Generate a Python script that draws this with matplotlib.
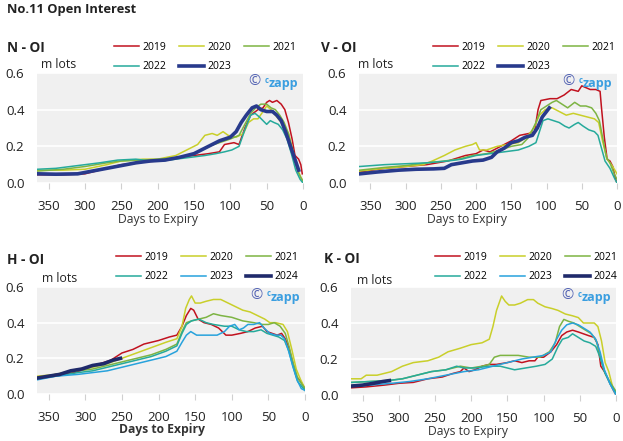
import matplotlib
matplotlib.use("Agg")
import matplotlib.pyplot as plt

plt.rcParams['font.family'] = ['Open Sans', 'DejaVu Sans']

# ── data: (days to expiry, open interest in m lots) ──
n_2019 = [(365, 0.045), (330, 0.045), (300, 0.05), (280, 0.07), (250, 0.10), (220, 0.115), (200, 0.12),
          (170, 0.14), (150, 0.15), (130, 0.16), (115, 0.17), (108, 0.21), (95, 0.22), (88, 0.21),
          (80, 0.30), (72, 0.37), (62, 0.40), (55, 0.41), (50, 0.44), (46, 0.45), (42, 0.44), (36, 0.45),
          (30, 0.43), (25, 0.40), (20, 0.33), (15, 0.24), (11, 0.15), (6, 0.13), (3, 0.10), (1, 0.05)]
n_2020 = [(365, 0.07), (330, 0.07), (300, 0.075), (270, 0.10), (250, 0.12), (220, 0.13), (200, 0.13),
          (175, 0.15), (160, 0.18), (145, 0.21), (135, 0.26), (125, 0.27), (118, 0.26), (110, 0.28),
          (103, 0.26), (92, 0.25), (82, 0.27), (75, 0.33), (68, 0.35), (62, 0.35), (55, 0.39), (50, 0.42),
          (44, 0.40), (38, 0.37), (32, 0.34), (26, 0.31), (20, 0.27), (14, 0.18), (8, 0.08), (3, 0.03), (0, 0.01)]
n_2021 = [(365, 0.065), (330, 0.075), (300, 0.09), (270, 0.11), (250, 0.12), (220, 0.125), (200, 0.13),
          (170, 0.14), (150, 0.16), (130, 0.20), (115, 0.22), (100, 0.24), (88, 0.26), (80, 0.32),
          (72, 0.38), (65, 0.41), (58, 0.43), (50, 0.43), (44, 0.41), (38, 0.40), (32, 0.37), (26, 0.33),
          (20, 0.27), (14, 0.17), (8, 0.07), (3, 0.03), (0, 0.01)]
n_2022 = [(365, 0.075), (340, 0.08), (320, 0.09), (300, 0.10), (280, 0.11), (255, 0.125), (230, 0.13),
          (210, 0.12), (195, 0.12), (175, 0.13), (155, 0.14), (135, 0.15), (120, 0.16), (108, 0.17),
          (98, 0.18), (88, 0.20), (80, 0.29), (72, 0.37), (66, 0.38), (60, 0.36), (55, 0.34), (50, 0.32),
          (45, 0.34), (40, 0.33), (34, 0.32), (28, 0.29), (22, 0.24), (16, 0.16), (10, 0.07), (4, 0.02), (0, 0.0)]
n_2023 = [(365, 0.05), (340, 0.048), (310, 0.05), (290, 0.065), (270, 0.08), (250, 0.095), (230, 0.11),
          (210, 0.12), (190, 0.125), (170, 0.14), (150, 0.16), (130, 0.20), (115, 0.23), (100, 0.25),
          (92, 0.28), (85, 0.33), (78, 0.37), (70, 0.41), (64, 0.42), (58, 0.40), (50, 0.39), (42, 0.39),
          (36, 0.37), (30, 0.34), (24, 0.28), (18, 0.21), (12, 0.14), (6, 0.07)]

v_2019 = [(365, 0.06), (330, 0.08), (300, 0.09), (270, 0.10), (240, 0.12), (215, 0.15), (200, 0.16),
          (190, 0.18), (180, 0.17), (165, 0.20), (150, 0.23), (138, 0.26), (125, 0.27), (117, 0.28),
          (112, 0.40), (108, 0.45), (95, 0.46), (85, 0.46), (75, 0.48), (65, 0.51), (55, 0.50), (50, 0.53),
          (44, 0.52), (38, 0.51), (30, 0.51), (24, 0.50), (22, 0.41), (18, 0.25), (14, 0.13), (10, 0.12),
          (6, 0.09), (2, 0.02), (0, 0.0)]
v_2020 = [(365, 0.065), (330, 0.08), (300, 0.09), (275, 0.10), (262, 0.12), (245, 0.15), (230, 0.18),
          (215, 0.20), (205, 0.21), (200, 0.22), (195, 0.18), (185, 0.18), (170, 0.20), (155, 0.21),
          (140, 0.22), (128, 0.25), (118, 0.30), (110, 0.37), (102, 0.40), (92, 0.41), (82, 0.39),
          (72, 0.37), (62, 0.38), (52, 0.37), (42, 0.36), (32, 0.35), (26, 0.33), (20, 0.22), (14, 0.13),
          (8, 0.10), (3, 0.07), (0, 0.05)]
v_2021 = [(365, 0.07), (330, 0.085), (300, 0.095), (270, 0.11), (245, 0.12), (225, 0.13), (205, 0.15),
          (185, 0.16), (165, 0.18), (150, 0.20), (135, 0.21), (125, 0.25), (115, 0.33), (108, 0.40),
          (100, 0.42), (92, 0.44), (86, 0.45), (78, 0.43), (70, 0.41), (60, 0.44), (52, 0.42), (44, 0.42),
          (36, 0.41), (30, 0.38), (25, 0.34), (20, 0.24), (15, 0.14), (10, 0.11), (4, 0.05), (0, 0.02)]
v_2022 = [(365, 0.09), (330, 0.10), (300, 0.105), (270, 0.11), (240, 0.12), (220, 0.13), (200, 0.15),
          (180, 0.16), (160, 0.17), (140, 0.18), (125, 0.20), (115, 0.22), (110, 0.28), (105, 0.34),
          (98, 0.35), (90, 0.34), (82, 0.33), (74, 0.31), (68, 0.30), (60, 0.32), (55, 0.33), (48, 0.31),
          (40, 0.29), (32, 0.28), (27, 0.26), (22, 0.19), (17, 0.12), (10, 0.08), (4, 0.03), (0, 0.0)]
v_2023 = [(365, 0.05), (340, 0.06), (310, 0.07), (285, 0.075), (260, 0.077), (245, 0.08), (235, 0.10),
          (220, 0.11), (205, 0.12), (190, 0.125), (178, 0.14), (170, 0.17), (160, 0.19), (150, 0.22),
          (140, 0.23), (130, 0.25), (120, 0.26), (113, 0.30), (106, 0.36), (100, 0.39), (96, 0.41)]

h_2019 = [(365, 0.09), (340, 0.11), (315, 0.12), (300, 0.14), (280, 0.17), (265, 0.19), (250, 0.23),
          (235, 0.25), (220, 0.28), (200, 0.30), (185, 0.32), (175, 0.33), (168, 0.38), (162, 0.44),
          (156, 0.48), (152, 0.47), (146, 0.42), (138, 0.40), (128, 0.39), (118, 0.37), (108, 0.33),
          (100, 0.33), (88, 0.34), (78, 0.35), (68, 0.37), (58, 0.38), (52, 0.35), (45, 0.34), (38, 0.33),
          (32, 0.34), (27, 0.31), (22, 0.26), (17, 0.18), (12, 0.10), (6, 0.07), (0, 0.03)]
h_2020 = [(365, 0.10), (340, 0.11), (310, 0.14), (290, 0.15), (270, 0.17), (250, 0.20), (230, 0.23),
          (210, 0.26), (190, 0.29), (175, 0.31), (168, 0.38), (163, 0.48), (158, 0.53), (155, 0.55),
          (150, 0.51), (143, 0.51), (135, 0.52), (125, 0.53), (115, 0.53), (105, 0.51), (95, 0.49),
          (85, 0.47), (75, 0.46), (65, 0.44), (55, 0.42), (48, 0.40), (40, 0.40), (30, 0.39), (24, 0.35),
          (18, 0.25), (12, 0.14), (6, 0.08), (0, 0.03)]
h_2021 = [(365, 0.09), (340, 0.11), (310, 0.13), (290, 0.14), (270, 0.16), (250, 0.18), (230, 0.20),
          (210, 0.22), (190, 0.25), (175, 0.28), (168, 0.35), (162, 0.40), (155, 0.41), (145, 0.42),
          (135, 0.43), (125, 0.45), (115, 0.44), (100, 0.43), (85, 0.41), (70, 0.40), (58, 0.39),
          (50, 0.39), (42, 0.40), (34, 0.38), (27, 0.34), (22, 0.27), (16, 0.17), (10, 0.09), (0, 0.03)]
h_2022 = [(365, 0.09), (340, 0.10), (310, 0.12), (290, 0.13), (270, 0.15), (250, 0.17), (230, 0.19),
          (210, 0.21), (190, 0.24), (175, 0.27), (168, 0.34), (162, 0.39), (155, 0.41), (145, 0.42),
          (135, 0.40), (125, 0.39), (110, 0.38), (100, 0.38), (90, 0.36), (80, 0.35), (70, 0.35),
          (60, 0.36), (52, 0.34), (44, 0.33), (36, 0.32), (28, 0.30), (22, 0.24), (16, 0.15), (10, 0.07), (0, 0.02)]
h_2023 = [(365, 0.08), (340, 0.10), (310, 0.11), (290, 0.12), (270, 0.13), (250, 0.15), (230, 0.17),
          (210, 0.19), (190, 0.21), (175, 0.24), (168, 0.29), (162, 0.33), (156, 0.35), (148, 0.33),
          (140, 0.33), (130, 0.33), (120, 0.33), (110, 0.35), (103, 0.38), (96, 0.39), (90, 0.36),
          (84, 0.37), (78, 0.39), (70, 0.39), (62, 0.40), (56, 0.37), (48, 0.34), (40, 0.33), (33, 0.33),
          (28, 0.31), (23, 0.25), (17, 0.16), (11, 0.08), (5, 0.03), (0, 0.02)]
h_2024 = [(365, 0.09), (350, 0.10), (335, 0.11), (320, 0.13), (305, 0.14), (290, 0.16), (275, 0.17),
          (262, 0.19), (252, 0.20)]

k_2019 = [(365, 0.04), (345, 0.045), (320, 0.055), (300, 0.065), (280, 0.07), (260, 0.09), (240, 0.10),
          (225, 0.12), (215, 0.13), (210, 0.15), (203, 0.13), (195, 0.14), (185, 0.16), (175, 0.17),
          (165, 0.17), (150, 0.18), (140, 0.19), (130, 0.18), (120, 0.19), (112, 0.19), (108, 0.21),
          (100, 0.21), (90, 0.24), (82, 0.28), (75, 0.33), (68, 0.35), (60, 0.36), (52, 0.35), (45, 0.34),
          (38, 0.33), (30, 0.32), (25, 0.28), (21, 0.16), (16, 0.13), (10, 0.08), (4, 0.03), (0, 0.0)]
k_2020 = [(365, 0.09), (352, 0.09), (345, 0.11), (330, 0.11), (310, 0.13), (295, 0.16), (280, 0.18),
          (260, 0.19), (245, 0.21), (232, 0.24), (215, 0.26), (200, 0.28), (185, 0.29), (175, 0.31),
          (170, 0.38), (165, 0.47), (158, 0.55), (153, 0.52), (148, 0.50), (140, 0.50), (132, 0.51),
          (122, 0.53), (114, 0.53), (108, 0.51), (98, 0.49), (88, 0.48), (80, 0.47), (70, 0.45),
          (60, 0.44), (52, 0.43), (45, 0.40), (38, 0.40), (30, 0.40), (25, 0.38), (20, 0.30), (15, 0.18),
          (10, 0.13), (5, 0.05), (0, 0.0)]
k_2021 = [(365, 0.07), (340, 0.075), (315, 0.08), (295, 0.09), (275, 0.11), (255, 0.13), (235, 0.14),
          (215, 0.16), (200, 0.15), (185, 0.16), (175, 0.17), (168, 0.21), (160, 0.22), (145, 0.22),
          (135, 0.22), (120, 0.21), (105, 0.21), (92, 0.24), (84, 0.29), (78, 0.38), (72, 0.42),
          (66, 0.41), (58, 0.40), (50, 0.38), (42, 0.36), (34, 0.34), (27, 0.30), (21, 0.20), (15, 0.12),
          (8, 0.07), (0, 0.02)]
k_2022 = [(365, 0.07), (340, 0.075), (315, 0.08), (295, 0.09), (275, 0.11), (255, 0.13), (235, 0.14),
          (220, 0.16), (210, 0.15), (195, 0.15), (175, 0.16), (160, 0.16), (150, 0.15), (140, 0.14),
          (125, 0.15), (110, 0.16), (98, 0.17), (88, 0.20), (80, 0.27), (74, 0.31), (66, 0.32),
          (60, 0.34), (52, 0.32), (44, 0.30), (36, 0.29), (28, 0.27), (22, 0.21), (16, 0.13), (8, 0.06), (0, 0.01)]
k_2023 = [(365, 0.05), (340, 0.055), (310, 0.065), (285, 0.075), (260, 0.09), (235, 0.11), (210, 0.13),
          (190, 0.14), (170, 0.16), (150, 0.18), (130, 0.20), (115, 0.21), (100, 0.22), (90, 0.24),
          (82, 0.31), (75, 0.36), (68, 0.39), (60, 0.40), (52, 0.39), (44, 0.37), (36, 0.35), (28, 0.31),
          (22, 0.24), (16, 0.14), (8, 0.06), (0, 0.0)]
k_2024 = [(365, 0.05), (350, 0.055), (335, 0.065), (322, 0.075), (313, 0.08)]

YEARS_A = ['2019', '2020', '2021', '2022', '2023']
YEARS_B = ['2019', '2020', '2021', '2022', '2023', '2024']

COLORS_A = ['#c1121f', '#c9cf2a', '#7db443', '#26aa9b', '#283a8c']
COLORS_B = ['#c1121f', '#c9cf2a', '#7db443', '#26aa9b', '#27a2dc', '#1f2a6b']

X_TICKS = [350, 300, 250, 200, 150, 100, 50, 0]
Y_TICKS = [0.0, 0.2, 0.4, 0.6]

W, H = 623, 441
fig = plt.figure(figsize=(W / 100, H / 100), dpi=100)


def px_axes(left, top, right, bottom):
    return fig.add_axes([left / W, 1 - bottom / H, (right - left) / W, (bottom - top) / H])


def panel(ax, series, years, colors, title, title_xy, legend_xy, mlots_xy, xlabel_xy, bold_xlabel=False):
    ax.set_facecolor('#f0f0f0')
    for spine in ax.spines.values():
        spine.set_visible(False)
    ax.grid(True, axis='y', color='white', linewidth=1.2)
    ax.set_axisbelow(True)

    handles = []
    for i, (data, year, c) in enumerate(zip(series, years, colors)):
        days = [d for d, v in data]
        vals = [v for d, v in data]
        thick = i == len(series) - 1 and c in ('#283a8c', '#1f2a6b')
        ln, = ax.plot(days, vals, color=c, linewidth=2.6 if thick else 1.1,
                      solid_joinstyle='round', label=year)
        handles.append(ln)

    ax.set_xlim(366, 0)
    ax.set_ylim(0, 0.6)
    ax.set_xticks(X_TICKS)
    ax.set_yticks(Y_TICKS)
    ax.set_yticklabels([f'{v:.1f}' for v in Y_TICKS])
    ax.tick_params(axis='x', length=4, color='#d0d0d0', pad=8, labelsize=9.5, labelcolor='#222222')
    ax.tick_params(axis='y', length=0, pad=9, labelsize=9.5, labelcolor='#222222')

    ax.set_xlabel('Days to Expiry', fontsize=8.7, color='#333333',
                  fontweight='bold' if bold_xlabel else 'normal')
    ax.xaxis.set_label_coords(*xlabel_xy)

    fig.text(title_xy[0] / W, 1 - title_xy[1] / H, title, fontsize=9.8, fontweight='bold',
             color='#222222', va='center', ha='left')
    fig.text(mlots_xy[0] / W, 1 - mlots_xy[1] / H, 'm lots', fontsize=8.8, color='#222222',
             va='center', ha='left')

    n = len(handles)
    order = [0, 3, 1, 4, 2, 5] if n == 6 else [0, 3, 1, 4, 2]
    ax.legend([handles[k] for k in order], [years[k] for k in order], ncol=3,
              loc='upper left', bbox_to_anchor=(legend_xy[0] / W, 1 - legend_xy[1] / H),
              bbox_transform=fig.transFigure, frameon=False, fontsize=7.5,
              handlelength=2.4, handletextpad=0.3, columnspacing=1.25,
              labelspacing=0.8, borderpad=0, borderaxespad=0)

    # watermark
    t = ax.text(0.982, 0.905, 'zapp', transform=ax.transAxes, ha='right', va='center',
                fontsize=9, fontweight='bold', color='#3a9ee0')
    t2 = ax.annotate('c', xy=(0, 0.75), xycoords=t, ha='right', va='center',
                     fontsize=5.5, fontweight='bold', color='#3a9ee0')
    ax.annotate('\u00a9 ', xy=(0, 0.35), xycoords=t2, ha='right', va='center',
                fontsize=10.5, color='#5363b3')


fig.text(7 / W, 1 - 9 / H, 'No.11 Open Interest', fontsize=9.3, fontweight='bold',
         color='#222222', va='center', ha='left')

ax_n = px_axes(37, 73, 303, 183)
panel(ax_n, [n_2019, n_2020, n_2021, n_2022, n_2023], YEARS_A, COLORS_A, 'N - OI',
      (7, 48), (114, 42), (41, 64), (0.456, -0.275))

ax_v = px_axes(359, 73, 617, 183)
panel(ax_v, [v_2019, v_2020, v_2021, v_2022, v_2023], YEARS_A, COLORS_A, 'V - OI',
      (321, 48), (433, 42), (358, 64), (0.42, -0.275))

ax_h = px_axes(37, 287, 305, 394)
panel(ax_h, [h_2019, h_2020, h_2021, h_2022, h_2023, h_2024], YEARS_B, COLORS_B, 'H - OI',
      (7, 260), (116, 252), (42, 279), (0.468, -0.275), bold_xlabel=True)

ax_k = px_axes(351, 287, 616, 395)
panel(ax_k, [k_2019, k_2020, k_2021, k_2022, k_2023, k_2024], YEARS_B, COLORS_B, 'K - OI',
      (324, 259), (435, 252), (357, 280), (0.44, -0.275))

fig.savefig('out.png', dpi=100)
